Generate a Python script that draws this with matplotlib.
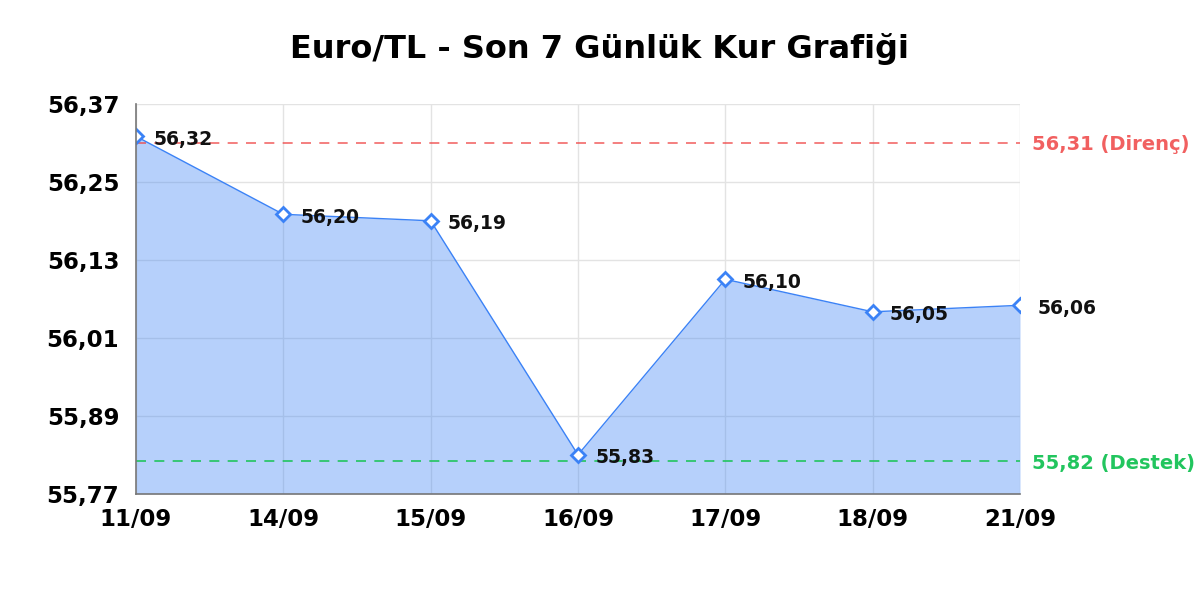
import matplotlib.pyplot as plt
import numpy as np

plt.rcParams["font.family"] = ["DejaVu Sans"]

# --------------------------------------------------------------------------- #
# Data
# --------------------------------------------------------------------------- #
dates = ["11/09", "14/09", "15/09", "16/09", "17/09", "18/09", "21/09"]
rates = [56.32, 56.20, 56.19, 55.83, 56.10, 56.05, 56.06]
resistance = 56.31
support = 55.82
y_ticks = [55.77, 55.89, 56.01, 56.13, 56.25, 56.37]

BLUE = "#3b82f6"
RED = "#ef4444"
GREEN = "#22c55e"


def tr(v: float) -> str:
    """Turkish decimal comma."""
    return f"{v:.2f}".replace(".", ",")


fig = plt.figure(figsize=(12, 6), dpi=100)
ax = fig.add_axes([0.1133, 0.177, 0.7367, 0.65])

x = np.arange(len(dates))
ax.fill_between(x, rates, y_ticks[0], color=BLUE, alpha=0.37, zorder=1, linewidth=0)
ax.plot(x, rates, color=BLUE, linewidth=1, zorder=3)
ax.plot(x, rates, linestyle="none", marker="D", markersize=7,
        markerfacecolor="white", markeredgecolor=BLUE, markeredgewidth=2, zorder=4)

for xi, v in zip(x, rates):
    ax.annotate(tr(v), (xi, v), xytext=(12.5, -2.2), textcoords="offset points",
                ha="left", va="center", fontsize=13.5, fontweight="bold",
                color="#111111", zorder=5)

ax.axhline(resistance, color=RED, linestyle=(0, (6, 5)), linewidth=1.2, alpha=0.8, zorder=2)
ax.axhline(support, color=GREEN, linestyle=(0, (6, 5)), linewidth=1.2, zorder=2)
ax.annotate(f"{tr(resistance)} (Direnç)", (1, resistance), xycoords=("axes fraction", "data"),
            xytext=(9, -1.5), textcoords="offset points", ha="left", va="center",
            fontsize=14, fontweight="bold", color=RED, alpha=0.85)
ax.annotate(f"{tr(support)} (Destek)", (1, support), xycoords=("axes fraction", "data"),
            xytext=(9, -1.5), textcoords="offset points", ha="left", va="center",
            fontsize=14, fontweight="bold", color=GREEN)

ax.set_xlim(0, len(dates) - 1)
ax.set_ylim(y_ticks[0], y_ticks[-1])
ax.set_xticks(x)
ax.set_xticklabels(dates)
ax.set_yticks(y_ticks)
ax.set_yticklabels([tr(t) for t in y_ticks])
ax.tick_params(axis="both", length=0, labelsize=16.5)
ax.tick_params(axis="y", pad=12)
ax.tick_params(axis="x", pad=10)
for lab in ax.get_xticklabels() + ax.get_yticklabels():
    lab.set_fontweight("bold")

ax.grid(True, color="#e3e3e3", linewidth=1, zorder=0)
ax.set_axisbelow(True)
for side in ("top", "right"):
    ax.spines[side].set_visible(False)
for side in ("left", "bottom"):
    ax.spines[side].set_color("#777777")
    ax.spines[side].set_linewidth(1.2)
    ax.spines[side].set_zorder(6)

fig.suptitle("Euro/TL - Son 7 Günlük Kur Grafiği", x=0.5, y=0.945,
             fontsize=23, fontweight="bold")

fig.savefig("out.png")
